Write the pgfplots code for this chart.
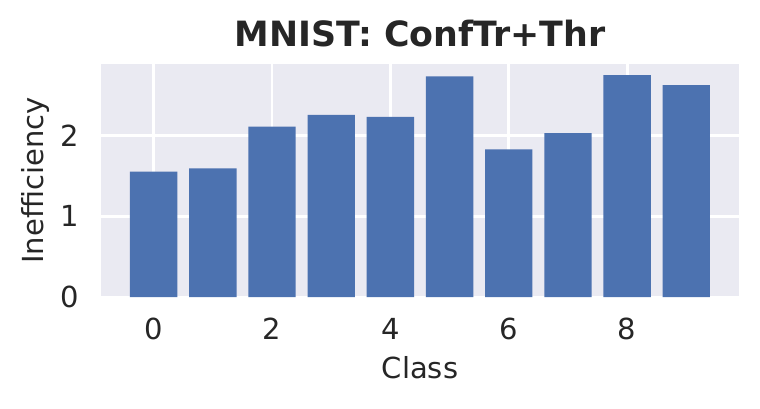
\documentclass[border=0pt]{standalone}
\usepackage{pgfplots}
\pgfplotsset{compat=1.18}
\usepackage{fontspec}
\setmainfont{DejaVu Sans}
\definecolor{barblue}{HTML}{4C72B0}
\definecolor{bgc}{HTML}{EAEAF2}
\definecolor{txt}{HTML}{262626}
\begin{document}
\begin{tikzpicture}
\begin{axis}[
  at={(50.5pt,55.5pt)}, anchor=south west,
  scale only axis, width=319pt, height=116.5pt,
  xmin=-0.89, xmax=9.89, ymin=0, ymax=2.8875,
  axis background/.style={fill=bgc},
  axis line style={draw=none},
  major tick length=0pt,
  xtick={0,2,4,6,8}, ytick={0,1,2},
  grid=major, major grid style={white, line width=1.4pt},
  /pgf/number format/assume math mode=true,
  tick label style={font=\fontsize{14.5}{17}\selectfont, text=txt},
  xticklabel style={anchor=base, inner sep=0pt, yshift=-21.1pt},
  yticklabel style={anchor=east, inner sep=0pt, xshift=-11pt},
  xlabel={Class}, ylabel={Inefficiency},
  label style={font=\fontsize{14.5}{17}\selectfont, text=txt},
  xlabel style={at={(axis description cs:0.5,-0.3485)}, anchor=base},
  ylabel style={at={(axis description cs:-0.0909,0.5)}, anchor=base},
  title={MNIST: ConfTr+Thr},
  every axis title shift=0pt,
  title style={font=\fontsize{17.4}{20}\selectfont\bfseries, text=txt, at={(axis description cs:0.5,1.0742)}, anchor=base, yshift=0pt},
]
\addplot[ybar, bar width=0.8, bar shift=0pt, fill=barblue, draw=none] coordinates {
  (0,1.553) (1,1.595) (2,2.112) (3,2.257) (4,2.232)
  (5,2.733) (6,1.831) (7,2.030) (8,2.750) (9,2.626)
};
\end{axis}
\pgfresetboundingbox
\useasboundingbox (0,0) rectangle (380pt,204pt);
\end{tikzpicture}
\end{document}
